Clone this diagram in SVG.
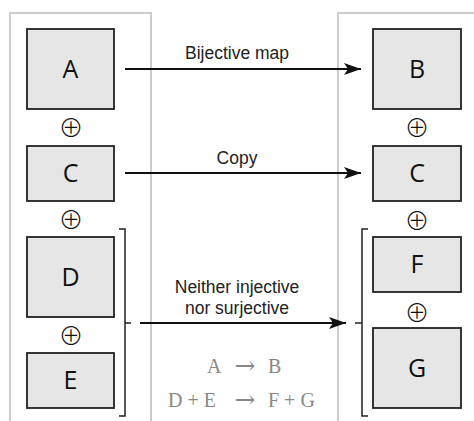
<svg xmlns="http://www.w3.org/2000/svg" width="474" height="421" viewBox="0 0 474 421">
<style>
.panel{fill:none;stroke:#cccccc;stroke-width:2}
.box{fill:#e6e6e6;stroke:#222;stroke-width:1.8}
.lbl{font-family:"Open Sans","Noto Sans",sans-serif;font-size:25px;fill:#111;text-anchor:middle}
.oplus{font-family:"Noto Sans CJK JP",sans-serif;font-weight:300;font-size:25px;fill:#111;text-anchor:middle}
.conn{stroke:#111;stroke-width:1.8;fill:none}
.brk{stroke:#222;stroke-width:1.5;fill:none}
.edge{font-family:"Liberation Sans",Arial,sans-serif;font-size:17.5px;fill:#222;text-anchor:middle}
.formula{font-family:"Liberation Serif","Times New Roman",serif;font-size:20px;fill:#888}
.farrow{font-family:"DejaVu Serif",serif;font-size:25px;fill:#888;text-anchor:middle}
</style>
<defs>
<marker id="ah" markerUnits="userSpaceOnUse" markerWidth="18" markerHeight="12" refX="17" refY="6" orient="auto">
<path d="M0,0 L17,6 L0,12 L4,6 z" fill="#111"/>
</marker>
</defs>
<g id="panels">
<path class="panel" d="M10,421 V13 H151 V421"/>
<path class="panel" d="M338,421 V13 H474"/>
</g>
<g id="node-A"><rect class="box" x="27" y="29" width="87" height="80"/><text class="lbl" x="70.5" y="78">A</text></g>
<g id="node-C-left"><rect class="box" x="27" y="146" width="87" height="55"/><text class="lbl" x="70.5" y="182">C</text></g>
<g id="node-D"><rect class="box" x="27" y="237" width="87" height="80"/><text class="lbl" x="70.5" y="286">D</text></g>
<g id="node-E"><rect class="box" x="27" y="353" width="87" height="55"/><text class="lbl" x="70.5" y="389">E</text></g>
<g id="node-B"><rect class="box" x="373" y="29" width="88" height="80"/><text class="lbl" x="417" y="78">B</text></g>
<g id="node-C-right"><rect class="box" x="373" y="146" width="88" height="55"/><text class="lbl" x="417" y="182">C</text></g>
<g id="node-F"><rect class="box" x="373" y="237" width="88" height="55"/><text class="lbl" x="417" y="273">F</text></g>
<g id="node-G"><rect class="box" x="373" y="328" width="88" height="80"/><text class="lbl" x="417" y="377">G</text></g>
<g id="oplus">
<text class="oplus" x="71" y="137">⊕</text>
<text class="oplus" x="71" y="229">⊕</text>
<text class="oplus" x="71" y="345">⊕</text>
<text class="oplus" x="417" y="137">⊕</text>
<text class="oplus" x="417" y="230">⊕</text>
<text class="oplus" x="417" y="322">⊕</text>
</g>
<g id="brackets">
<path class="brk" d="M119,229 H125 V416 H119 M125,323 H131"/>
<path class="brk" d="M368,229 H362 V416 H368 M362,323 H355"/>
</g>
<g id="connectors">
<line class="conn" x1="125" y1="69" x2="361" y2="69" marker-end="url(#ah)"/>
<line class="conn" x1="125" y1="173" x2="361" y2="173" marker-end="url(#ah)"/>
<line class="conn" x1="140" y1="323" x2="346" y2="323" marker-end="url(#ah)"/>
<text class="edge" x="237" y="59">Bijective map</text>
<text class="edge" x="237" y="164">Copy</text>
<text class="edge" x="237" y="293">Neither injective</text>
<text class="edge" x="237" y="314">nor surjective</text>
</g>
<g id="formula">
<text class="formula" x="207" y="373">A</text>
<text class="farrow" x="245" y="374">→</text>
<text class="formula" x="268" y="373">B</text>
<text class="formula" x="168" y="407">D + E</text>
<text class="farrow" x="245" y="408">→</text>
<text class="formula" x="268" y="407">F + G</text>
</g>
</svg>
